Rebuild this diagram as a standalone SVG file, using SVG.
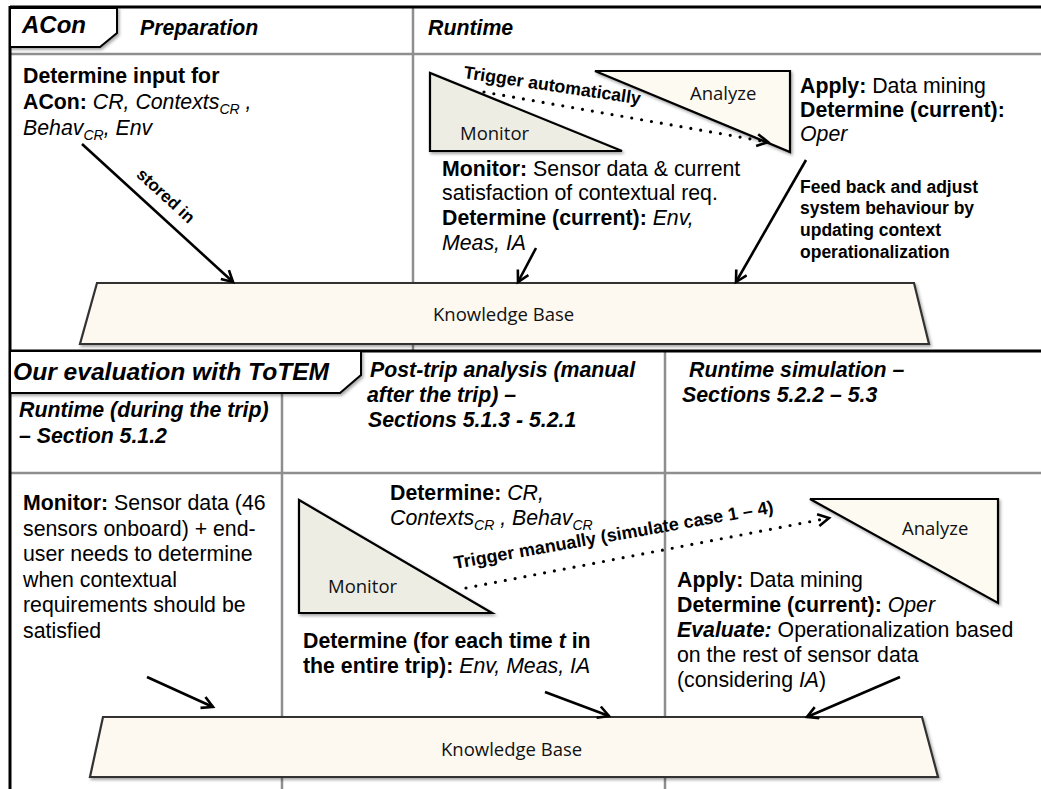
<svg xmlns="http://www.w3.org/2000/svg" width="1041" height="789" viewBox="0 0 1041 789">
<style>
.t{font-family:"Liberation Sans",Arial,sans-serif;font-size:21.3px;fill:#000}
.b{font-weight:bold}
.i{font-style:italic}
.bi{font-weight:bold;font-style:italic}
.sub{font-size:14px}
.big{font-size:24px}
.bigger{font-size:24.6px}
.c{font-family:"Open Sans","Noto Sans",sans-serif;font-size:18.5px;fill:#111}
.lbl{font-family:"Liberation Sans",Arial,sans-serif;font-weight:bold;fill:#000}
.grid{stroke:#8e8e8e;stroke-width:2.5;fill:none}
.frame{stroke:#000;stroke-width:3;fill:none}
.tab{fill:#fff;stroke:#000;stroke-width:2}
.mon{fill:#eeede4;stroke:#000;stroke-width:2.2}
.ana{fill:#fdfaf1;stroke:#000;stroke-width:2.2}
.kb{fill:#fdf9f0;stroke:#333;stroke-width:2.2}
.arr{stroke:#000;stroke-width:2.6;fill:none;marker-end:url(#ah)}
.dot{stroke:#000;stroke-width:3.2;fill:none;stroke-dasharray:0 10;stroke-linecap:round;marker-end:url(#ah)}
</style>
<defs>
<marker id="ah" markerUnits="userSpaceOnUse" markerWidth="16" markerHeight="16" refX="12" refY="7" orient="auto">
<path d="M1,1 L12,7 L1,13" fill="none" stroke="#000" stroke-width="2.6" stroke-dasharray="none"/>
</marker>
<filter id="sh" x="-10%" y="-10%" width="130%" height="130%">
<feDropShadow dx="1.5" dy="2" stdDeviation="1.5" flood-color="#000" flood-opacity="0.35"/>
</filter>
</defs>
<rect x="0" y="0" width="1041" height="789" fill="#fff"/>

<g id="grid">
<line class="grid" x1="10" y1="54" x2="1041" y2="54"/>
<line class="grid" x1="413" y1="8" x2="413" y2="351"/>
<line class="grid" x1="10" y1="473" x2="1041" y2="473"/>
<line class="grid" x1="282" y1="393" x2="282" y2="789"/>
<line class="grid" x1="665" y1="351" x2="665" y2="789"/>
<line class="frame" x1="10" y1="7" x2="1041" y2="7"/>
<line class="frame" x1="10" y1="6" x2="10" y2="789"/>
<line class="frame" x1="10" y1="351" x2="1041" y2="351" stroke-width="2.5"/>
</g>

<g id="tab-acon">
<path class="tab" d="M10,8 H117 V33 L100,47 H10 Z" filter="url(#sh)"/>
<text class="t bi big" x="22" y="33">ACon</text>
</g>
<g id="hdr-prep"><text class="t bi" x="140" y="35">Preparation</text></g>
<g id="hdr-runtime"><text class="t bi" x="428" y="35">Runtime</text></g>

<g id="tab-totem">
<path class="tab" d="M10,351 H361 V375 L340,393 H10 Z" filter="url(#sh)"/>
<text class="t bi bigger" x="13" y="380">Our evaluation with ToTEM</text>
</g>
<g id="hdr-trip">
<text class="t bi" x="19" y="417">Runtime (during the trip)</text>
<text class="t bi" x="19" y="443">– Section 5.1.2</text>
</g>
<g id="hdr-post">
<text class="t bi" x="370" y="377">Post-trip analysis (manual</text>
<text class="t bi" x="367" y="402">after the trip) –</text>
<text class="t bi" x="368" y="427">Sections 5.1.3 - 5.2.1</text>
</g>
<g id="hdr-sim">
<text class="t bi" x="689" y="377">Runtime simulation –</text>
<text class="t bi" x="682" y="402">Sections 5.2.2 – 5.3</text>
</g>

<g id="kb-top">
<path class="kb" d="M97,283 L914,283 L929,344 L80,344 Z" filter="url(#sh)"/>
<text class="c" x="433" y="321">Knowledge Base</text>
</g>
<g id="kb-bottom">
<path class="kb" d="M103,717 L922,717 L938,777 L90,777 Z" filter="url(#sh)"/>
<text class="c" x="441" y="756">Knowledge Base</text>
</g>

<g id="monitor-top">
<path class="mon" d="M430,73 L430,151 L622,151 Z" filter="url(#sh)"/>
<text class="c" x="460" y="140">Monitor</text>
</g>
<g id="analyze-top">
<path class="ana" d="M595,71 L790,71 L790,152 Z" filter="url(#sh)"/>
<text class="c" x="690" y="100">Analyze</text>
</g>
<g id="monitor-bottom">
<path class="mon" d="M299,500 L299,613 L492,613 Z" filter="url(#sh)"/>
<text class="c" x="328" y="593">Monitor</text>
</g>
<g id="analyze-bottom">
<path class="ana" d="M810,499 L998,499 L998,603 Z" filter="url(#sh)"/>
<text class="c" x="902" y="535">Analyze</text>
</g>

<g id="connectors">
<line class="arr" x1="82" y1="144" x2="233" y2="282"/>
<line class="arr" x1="536" y1="248" x2="518" y2="282"/>
<line class="arr" x1="806" y1="160" x2="736" y2="282"/>
<line class="dot" x1="484" y1="92" x2="768" y2="142"/>
<line class="arr" x1="147" y1="677" x2="213" y2="707"/>
<line class="arr" x1="545" y1="692" x2="609" y2="716"/>
<line class="arr" x1="900" y1="677" x2="807" y2="717"/>
<line class="dot" x1="466" y1="588" x2="829" y2="518"/>
<text class="lbl" font-size="17" text-anchor="middle" transform="translate(162,200) rotate(42.4)">stored in</text>
<text class="lbl" font-size="17.8" transform="translate(463,78) rotate(8.5)">Trigger automatically</text>
<text class="lbl" font-size="18" transform="translate(455,569) rotate(-10)">Trigger manually (simulate case 1 – 4)</text>
</g>

<g id="txt-prep">
<text class="t b" x="23" y="83">Determine input for</text>
<text class="t" x="23" y="109"><tspan class="b">ACon:</tspan><tspan class="i"> CR, Contexts</tspan><tspan class="i sub" dy="5">CR</tspan><tspan class="i" dy="-5"> ,</tspan></text>
<text class="t i" x="23" y="135">Behav<tspan class="sub" dy="5">CR</tspan><tspan dy="-5">, Env</tspan></text>
</g>
<g id="txt-monitor-top">
<text class="t" x="442" y="176"><tspan class="b">Monitor:</tspan> Sensor data &amp; current</text>
<text class="t" x="442" y="200">satisfaction of contextual req.</text>
<text class="t" x="442" y="225"><tspan class="b">Determine (current):</tspan><tspan class="i"> Env,</tspan></text>
<text class="t i" x="442" y="250">Meas, IA</text>
</g>
<g id="txt-analyze-top">
<text class="t" x="800" y="93"><tspan class="b">Apply:</tspan> Data mining</text>
<text class="t b" x="800" y="117">Determine (current):</text>
<text class="t i" x="800" y="141">Oper</text>
</g>
<g id="txt-feedback">
<text class="lbl" font-size="17.5" x="800" y="193">Feed back and adjust</text>
<text class="lbl" font-size="17.5" x="800" y="214">system behaviour by</text>
<text class="lbl" font-size="17.5" x="800" y="236">updating context</text>
<text class="lbl" font-size="17.5" x="800" y="258">operationalization</text>
</g>
<g id="txt-trip">
<text class="t" x="23" y="510"><tspan class="b">Monitor:</tspan> Sensor data (46</text>
<text class="t" x="23" y="535.5">sensors onboard) + end-</text>
<text class="t" x="23" y="561">user needs to determine</text>
<text class="t" x="23" y="586.5">when contextual</text>
<text class="t" x="23" y="612">requirements should be</text>
<text class="t" x="23" y="637.5">satisfied</text>
</g>
<g id="txt-post">
<text class="t" x="390" y="500"><tspan class="b">Determine:</tspan><tspan class="i"> CR,</tspan></text>
<text class="t i" x="390" y="525">Contexts<tspan class="sub" dy="5">CR</tspan><tspan dy="-5"> , Behav</tspan><tspan class="sub" dy="5">CR</tspan></text>
<text class="t b" x="303" y="648">Determine (for each time <tspan class="i">t</tspan> in</text>
<text class="t" x="303" y="673"><tspan class="b">the entire trip):</tspan><tspan class="i"> Env, Meas, IA</tspan></text>
</g>
<g id="txt-sim">
<text class="t" x="677" y="587"><tspan class="b">Apply:</tspan> Data mining</text>
<text class="t" x="677" y="612"><tspan class="b">Determine (current):</tspan><tspan class="i"> Oper</tspan></text>
<text class="t" x="677" y="637"><tspan class="bi">Evaluate:</tspan> Operationalization based</text>
<text class="t" x="677" y="662">on the rest of sensor data</text>
<text class="t" x="677" y="687">(considering <tspan class="i">IA</tspan>)</text>
</g>
</svg>
